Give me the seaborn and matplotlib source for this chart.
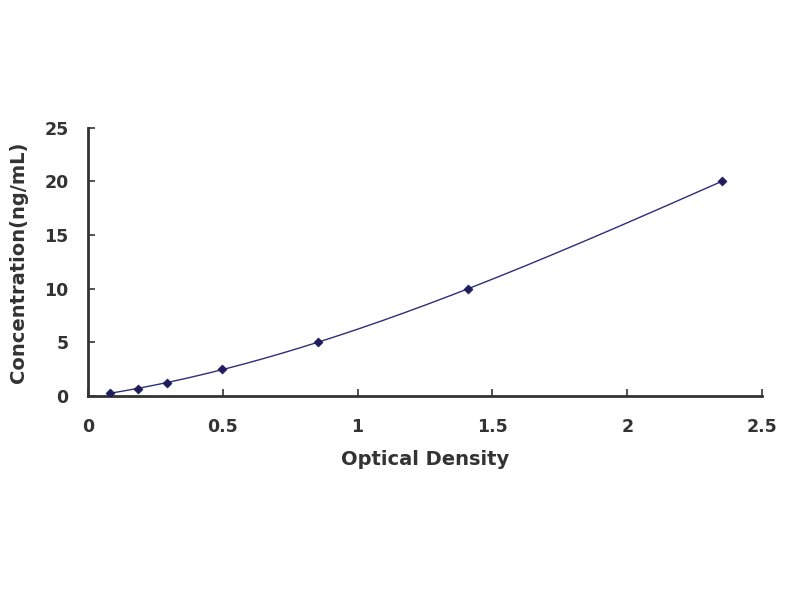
import numpy as np
import pandas as pd
import matplotlib
matplotlib.use("Agg")
import matplotlib.pyplot as plt
import seaborn as sns

# Puntos del estándar (densidad óptica vs concentración)
optical_density = [0.082, 0.185, 0.293, 0.497, 0.853, 1.41, 2.35]
concentration = [0.31, 0.63, 1.25, 2.5, 5, 10, 20]

x_ticks = [0, 0.5, 1, 1.5, 2, 2.5]
x_tick_labels = ["0", "0.5", "1", "1.5", "2", "2.5"]
y_ticks = [0, 5, 10, 15, 20, 25]

df = pd.DataFrame({"OD": optical_density, "Conc": concentration})

# Curva ajustada (polinomio de grado 3 sobre los puntos)
coef = np.polyfit(df["OD"], df["Conc"], 3)
x_fit = np.linspace(min(optical_density), max(optical_density), 200)
fit = pd.DataFrame({"OD": x_fit, "Conc": np.polyval(coef, x_fit)})

sns.set_style("white")
plt.rcParams["font.family"] = ["DejaVu Sans"]

fig = plt.figure(figsize=(8, 6), dpi=100)
ax = fig.add_axes([0.11, 0.34, 0.8425, 0.447])

sns.lineplot(data=fit, x="OD", y="Conc", ax=ax, color="#2e2e7a", linewidth=1.0)
sns.scatterplot(data=df, x="OD", y="Conc", ax=ax, marker="D", s=22,
                color="#1c1c5e", edgecolor="#1c1c5e", zorder=3)

ax.set_xlim(0, 2.5)
ax.set_ylim(0, 25)
ax.set_xticks(x_ticks)
ax.set_xticklabels(x_tick_labels)
ax.set_yticks(y_ticks)

for side in ["top", "right"]:
    ax.spines[side].set_visible(False)
for side in ["left", "bottom"]:
    ax.spines[side].set_color("#333333")
    ax.spines[side].set_linewidth(2)

ax.tick_params(axis="both", direction="in", length=5, width=1.2,
               bottom=True, left=True, colors="#333333", labelsize=12.5)
ax.tick_params(axis="x", pad=16)
ax.tick_params(axis="y", pad=14)
for lab in ax.get_xticklabels() + ax.get_yticklabels():
    lab.set_fontweight("bold")
    lab.set_color("#333333")

ax.set_xlabel("Optical Density", fontsize=14, fontweight="bold", color="#333333", labelpad=10)
ax.set_ylabel("Concentration(ng/mL)", fontsize=14, fontweight="bold", color="#333333", labelpad=12)

fig.savefig("out.png", dpi=100)
